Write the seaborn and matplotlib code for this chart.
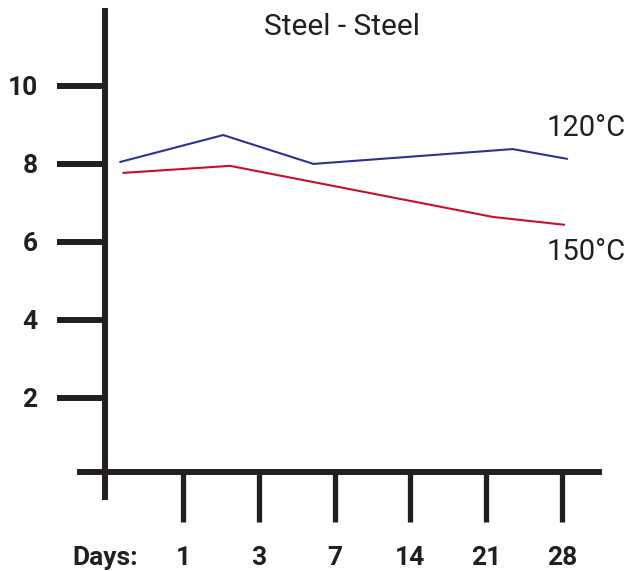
import numpy as np
import pandas as pd
import matplotlib
matplotlib.use('Agg')
import matplotlib.pyplot as plt
import seaborn as sns

# positions along the day axis (tick slots 1..6) and hardness-like values
blue_pos = [0.17, 1.53, 2.72, 5.35, 6.07]
blue_val = [8.05, 8.74, 8.00, 8.38, 8.13]
red_pos = [0.21, 1.62, 5.09, 6.03]
red_val = [7.77, 7.95, 6.64, 6.44]

day_ticks = [1, 2, 3, 4, 5, 6]
day_labels = ['1', '3', '7', '14', '21', '28']
y_ticks = [2, 4, 6, 8, 10]

ink = '#231F20'
blue = '#2E3192'
red = '#C8102E'

sns.set_style('white')
plt.rcParams['font.family'] = ['Roboto', 'DejaVu Sans']

df = pd.concat([
    pd.DataFrame({'pos': blue_pos, 'val': blue_val, 'temp': '120°C'}),
    pd.DataFrame({'pos': red_pos, 'val': red_val, 'temp': '150°C'}),
])

fig = plt.figure(figsize=(6.27, 5.71), dpi=100)
ax = fig.add_axes([0.1276, 0.1296, 0.8278, 0.8511])

sns.lineplot(data=df, x='pos', y='val', hue='temp', palette=[blue, red],
             linewidth=1.5, legend=False, ax=ax, sort=False)

ax.set_xlim(-0.36, 6.49)
ax.set_ylim(-0.54, 11.92)

for s in ['top', 'right']:
    ax.spines[s].set_visible(False)
ax.spines['left'].set_position(('data', -0.03))
ax.spines['bottom'].set_position(('data', 0.1))
for s in ['left', 'bottom']:
    ax.spines[s].set_linewidth(4.3)
    ax.spines[s].set_color(ink)

ax.set_xticks(day_ticks, day_labels)
ax.set_xticks([-0.03], ['Days:'], minor=True)
ax.set_yticks(y_ticks, [str(v) for v in y_ticks])

ax.tick_params(axis='y', left=True, length=34.5, width=4.3, color=ink,
               pad=14, labelsize=19, labelcolor=ink)
ax.tick_params(axis='x', which='major', bottom=True, length=36, width=3.8,
               color=ink, pad=17.5, labelsize=19, labelcolor=ink)
ax.tick_params(axis='x', which='minor', bottom=True, length=0, pad=53.5,
               labelsize=19, labelcolor=ink)
for lab in ax.get_xticklabels(which='both') + ax.get_yticklabels():
    lab.set_fontweight('bold')

ax.set_xlabel('')
ax.set_ylabel('')

ax.text(3.1, 11.5, 'Steel - Steel', ha='center', va='center',
        fontsize=21.5, color=ink)
ax.text(6.32, 8.93, '120°C', ha='center', va='center', fontsize=21,
        color=ink)
ax.text(6.32, 5.74, '150°C', ha='center', va='center', fontsize=21,
        color=ink)

fig.savefig('out.png', dpi=100)
